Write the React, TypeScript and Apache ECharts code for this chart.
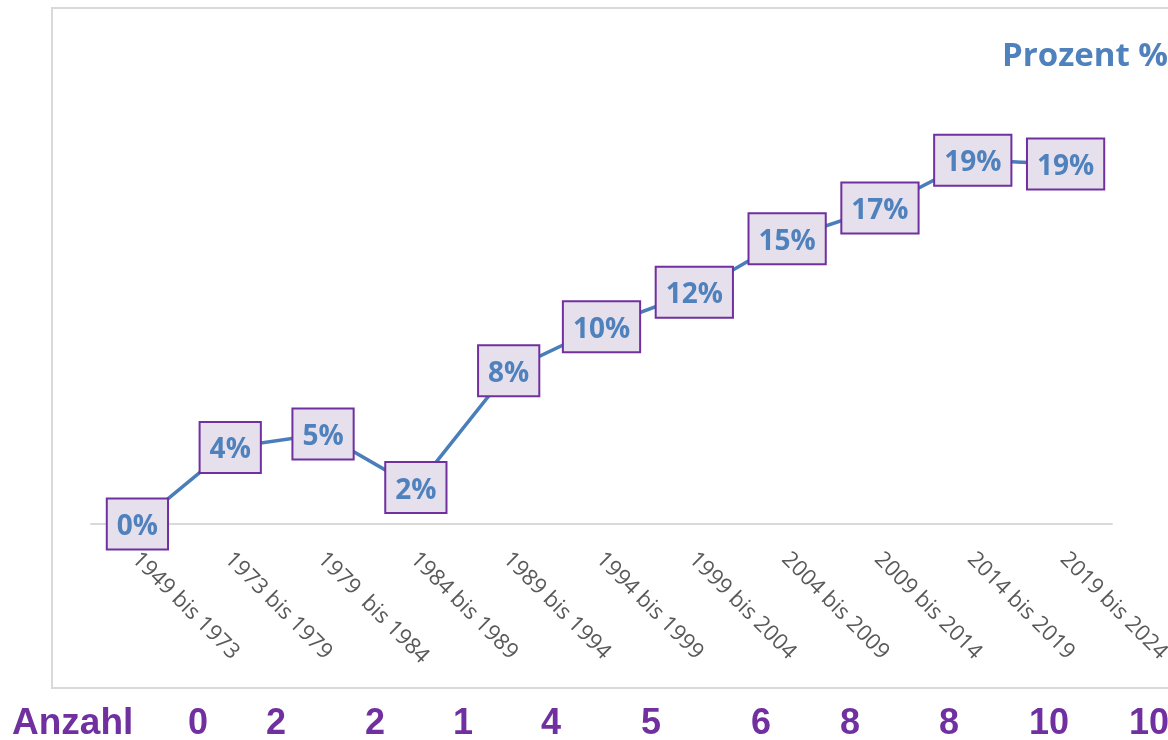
import React, { useEffect, useRef } from "react";
import * as echarts from "echarts";

const categories = [
  "1949 bis 1973",
  "1973 bis 1979",
  "1979  bis 1984",
  "1984 bis 1989",
  "1989 bis 1994",
  "1994 bis 1999",
  "1999 bis 2004",
  "2004 bis 2009",
  "2009 bis 2014",
  "2014 bis 2019",
  "2019 bis 2024",
];

const percentValues = [0, 4.0, 4.7, 1.9, 8.0, 10.3, 12.1, 14.9, 16.5, 19.0, 18.8];

const countLabel = "Anzahl";
const counts = ["0", "2", "2", "1", "4", "5", "6", "8", "8", "10", "10"];
const countX = [198, 276, 375, 463, 551, 651, 761, 850, 949, 1049, 1149];

const seriesTitle = "Prozent %";

export default function App() {
  const ref = useRef<HTMLDivElement>(null);

  useEffect(() => {
    if (!ref.current) return;
    const chart = echarts.init(ref.current, null, { renderer: "svg" });

    const countTexts = counts.map((c, i) => ({
      type: "text",
      x: countX[i],
      y: 721,
      style: {
        text: c,
        fill: "#7030A0",
        font: "bold 36px 'Liberation Sans', Arial, sans-serif",
        textAlign: "center",
        textVerticalAlign: "middle",
      },
    }));

    chart.setOption({
      animation: false,
      grid: {
        left: 91,
        top: 141,
        width: 1021,
        height: 383,
        containLabel: false,
        outerBoundsMode: "none",
      },
      xAxis: {
        type: "category",
        data: categories,
        boundaryGap: true,
        axisLine: { show: true, lineStyle: { color: "#D9D9D9", width: 2 } },
        axisTick: { show: false },
        axisLabel: {
          rotate: -45,
          interval: 0,
          margin: 30,
          color: "#595959",
          fontFamily: "'Open Sans', sans-serif",
          fontSize: 22,
          hideOverlap: false,
        },
      },
      yAxis: {
        type: "value",
        min: 0,
        max: 20,
        show: false,
        splitLine: { show: false },
      },
      graphic: [
        {
          type: "rect",
          shape: { x: 52, y: 8, width: 1200, height: 680 },
          style: { fill: "none", stroke: "#D9D9D9", lineWidth: 2 },
          silent: true,
          z: -10,
        },
        {
          type: "text",
          x: 1002,
          y: 53,
          style: {
            text: seriesTitle,
            fill: "#4F81BD",
            font: "bold 33px 'Open Sans', sans-serif",
            textAlign: "left",
            textVerticalAlign: "middle",
          },
        },
        {
          type: "text",
          x: 12,
          y: 721,
          style: {
            text: countLabel,
            fill: "#7030A0",
            font: "bold 37px 'Liberation Sans', Arial, sans-serif",
            textAlign: "left",
            textVerticalAlign: "middle",
          },
        },
        ...countTexts,
      ],
      series: [
        {
          type: "line",
          data: percentValues,
          symbol: "circle",
          symbolSize: 1,
          showSymbol: true,
          lineStyle: { color: "#4A7EBB", width: 3.5 },
          itemStyle: { color: "#4A7EBB" },
          label: {
            show: true,
            position: "inside",
            formatter: (p: any) => Math.round(p.value) + "%",
            color: "#4F81BD",
            fontFamily: "'Open Sans', sans-serif",
            fontWeight: "bold",
            fontSize: 28,
            lineHeight: 34,
            backgroundColor: "#E6E0EC",
            borderColor: "#7030A0",
            borderWidth: 2,
            padding: [8, 9, 7, 9],
          },
        },
      ],
    });

    return () => chart.dispose();
  }, []);

  return (
    <div
      ref={ref}
      style={{ position: "fixed", left: 0, top: 0, width: 1168, height: 740 }}
    />
  );
}
